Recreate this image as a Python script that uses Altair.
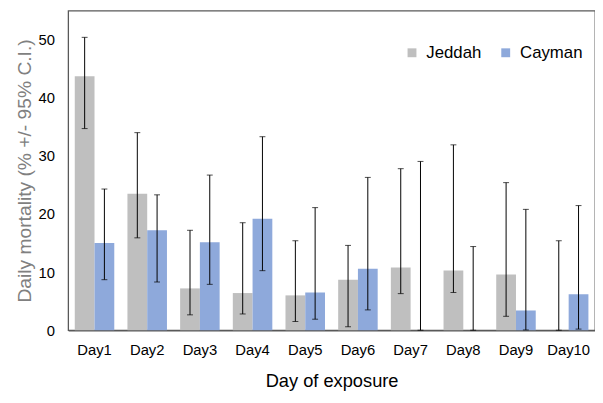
import altair as alt
import pandas as pd

days = ["Day1", "Day2", "Day3", "Day4", "Day5", "Day6", "Day7", "Day8", "Day9", "Day10"]
series = ["Jeddah", "Cayman"]

jeddah = [43.7, 23.5, 7.2, 6.4, 6.0, 8.7, 10.8, 10.3, 9.6, 0.0]
jeddah_lo = [34.7, 15.9, 2.65, 2.8, 1.5, 0.6, 6.3, 6.5, 2.4, 0.0]
jeddah_hi = [50.4, 34.0, 17.2, 18.5, 15.4, 14.6, 27.8, 31.9, 25.4, 15.4]

cayman = [15.0, 17.2, 15.15, 19.2, 6.5, 10.6, 0.0, 0.0, 3.4, 6.2]
cayman_lo = [8.7, 8.3, 7.9, 10.25, 1.9, 3.5, 0.0, 0.0, 0.05, 0.2]
cayman_hi = [24.3, 23.3, 26.7, 33.3, 21.1, 26.3, 29.05, 14.4, 20.8, 21.45]

rows = []
for i, d in enumerate(days):
    rows.append({"day": d, "series": "Jeddah", "value": jeddah[i], "lo": jeddah_lo[i], "hi": jeddah_hi[i]})
    rows.append({"day": d, "series": "Cayman", "value": cayman[i], "lo": cayman_lo[i], "hi": cayman_hi[i]})
df = pd.DataFrame(rows)

font = "Liberation Sans"

x = alt.X("day:N", sort=days, scale=alt.Scale(paddingInner=0.25, paddingOuter=0.125),
          axis=alt.Axis(title="Day of exposure", labelAngle=0, ticks=False, labelPadding=13,
                        labelFontSize=15, labelColor="#000000", titleFontSize=18.5,
                        titleFontWeight="normal", titleColor="#000000", titlePadding=14,
                        domainColor="#595959", domainWidth=1.3, labelFont=font, titleFont=font))
xo = alt.XOffset("series:N", sort=series, scale=alt.Scale(paddingInner=0, paddingOuter=0))
y = alt.Y("value:Q", scale=alt.Scale(domain=[0, 55], nice=False),
          axis=alt.Axis(title="Daily mortality (% +/- 95% C.I.)", values=[0, 10, 20, 30, 40, 50],
                        ticks=False, domain=False, grid=False, labelPadding=14, labelFontSize=15,
                        labelColor="#000000", titleFontSize=19.5, titleFontWeight="normal",
                        titleColor="#808080", titlePadding=4, labelFont=font, titleFont=font))

color = alt.Color("series:N", sort=series,
                  scale=alt.Scale(domain=series, range=["#BFBFBF", "#8EA9DB"]),
                  legend=alt.Legend(title=None, orient="none", legendX=340, legendY=34,
                                    direction="horizontal", symbolType="square", symbolSize=81,
                                    symbolStrokeWidth=0, labelFontSize=17, labelFont=font,
                                    labelColor="#000000", columnPadding=16, labelOffset=6))

base = alt.Chart(df)

bars = base.mark_bar().encode(x=x, xOffset=xo, y=y, color=color)
rules = base.mark_rule(color="#000000", strokeWidth=1).encode(
    x=x, xOffset=xo, y=alt.Y("lo:Q"), y2="hi:Q")
cap_hi = base.mark_tick(color="#000000", size=6, thickness=1, orient="horizontal").encode(
    x=x, xOffset=xo, y=alt.Y("hi:Q"))
cap_lo = base.mark_tick(color="#000000", size=6, thickness=1, orient="horizontal").encode(
    x=x, xOffset=xo, y=alt.Y("lo:Q"))

chart = alt.layer(bars, rules, cap_hi, cap_lo).properties(
    width=534, height=324,
    autosize=alt.AutoSizeParams(type="none"),
    padding={"left": 61, "top": 0, "right": 0, "bottom": 63},
).configure_view(stroke="#595959", strokeWidth=1.3)

chart.save("out.html", embed_options={"renderer": "svg", "actions": False})
